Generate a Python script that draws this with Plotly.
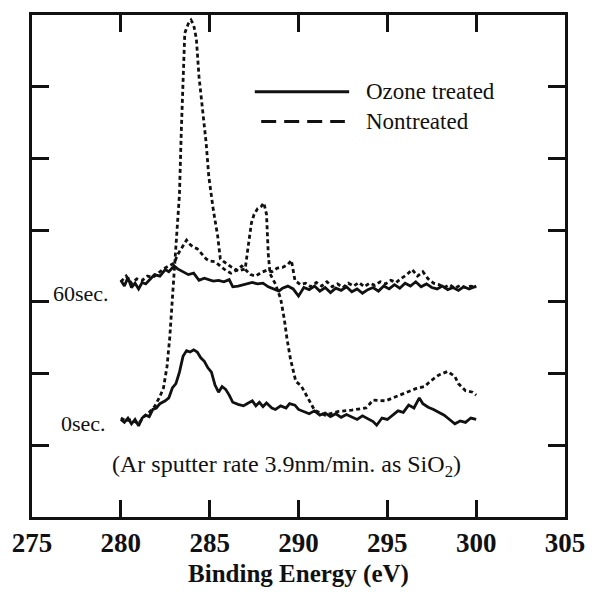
import plotly.graph_objects as go

# Binding energy axis (eV) and intensity (arb. units, offset per sputter time)
ozone_0s_x = [280.0, 280.2, 280.4, 280.6, 280.8, 281.0, 281.2, 281.4, 281.6, 281.8, 282.0, 282.2, 282.5, 282.7,
              282.9, 283.1, 283.3, 283.5, 283.7, 283.9, 284.1, 284.3, 284.5, 284.7, 284.9, 285.1, 285.3, 285.5,
              285.7, 285.9, 286.1, 286.3, 286.6, 286.9, 287.1, 287.4, 287.6, 287.8, 288.0, 288.2, 288.5, 288.7,
              289.0, 289.3, 289.5, 289.8, 290.0, 290.3, 290.6, 290.9, 291.2, 291.5, 291.8, 292.1, 292.4, 292.7,
              293.0, 293.3, 293.6, 293.9, 294.2, 294.4, 294.7, 295.0, 295.3, 295.6, 295.9, 296.2, 296.5, 296.8,
              297.0, 297.3, 297.6, 297.9, 298.2, 298.5, 298.8, 299.1, 299.4, 299.7, 300.0]
ozone_0s_y = [1.36, 1.32, 1.38, 1.30, 1.36, 1.27, 1.38, 1.42, 1.40, 1.50, 1.52, 1.58, 1.62, 1.66,
              1.80, 1.86, 2.02, 2.24, 2.32, 2.30, 2.33, 2.30, 2.22, 2.17, 2.08, 2.02, 1.84, 1.74,
              1.82, 1.78, 1.70, 1.60, 1.57, 1.55, 1.58, 1.62, 1.55, 1.60, 1.54, 1.59, 1.52, 1.50,
              1.55, 1.52, 1.58, 1.56, 1.50, 1.47, 1.44, 1.48, 1.42, 1.45, 1.40, 1.44, 1.39, 1.43,
              1.40, 1.36, 1.41, 1.37, 1.33, 1.28, 1.38, 1.36, 1.42, 1.48, 1.46, 1.56, 1.52, 1.66,
              1.58, 1.53, 1.50, 1.46, 1.42, 1.36, 1.30, 1.34, 1.32, 1.38, 1.36]

nontreated_0s_x = [280.0, 280.3, 280.6, 281.0, 281.3, 281.6, 281.9, 282.2, 282.4, 282.6, 282.75, 282.9,
                   283.0, 283.15, 283.3, 283.4, 283.5, 283.6, 283.8, 283.95, 284.1, 284.25, 284.4, 284.6,
                   284.8, 284.95, 285.2, 285.45, 285.6, 285.8, 286.0, 286.25, 286.6, 287.0, 287.15, 287.25,
                   287.35, 287.5, 287.7, 287.9, 288.05, 288.2, 288.25, 288.3, 288.4, 288.7, 289.0, 289.2,
                   289.35, 289.55, 289.85, 290.15, 290.55, 290.9, 291.5, 292.2, 293.0, 293.8, 294.2, 294.9,
                   295.5, 295.9, 296.6, 297.1, 297.4, 297.9, 298.4, 298.8, 299.0, 299.4, 299.8, 300.0]
nontreated_0s_y = [1.38, 1.34, 1.36, 1.30, 1.40, 1.46, 1.54, 1.68, 1.80, 2.10, 2.49, 3.04,
                   3.36, 3.90, 4.50, 5.36, 6.20, 6.75, 6.88, 6.93, 6.86, 6.67, 6.14, 5.70,
                   5.22, 4.75, 4.29, 3.92, 3.60, 3.56, 3.52, 3.48, 3.43, 3.46, 3.74, 3.92,
                   4.10, 4.22, 4.30, 4.33, 4.38, 4.22, 3.94, 3.66, 3.39, 3.25, 3.04, 2.76,
                   2.49, 2.20, 1.89, 1.83, 1.65, 1.49, 1.42, 1.47, 1.49, 1.52, 1.63, 1.62,
                   1.68, 1.72, 1.79, 1.82, 1.89, 1.98, 2.03, 1.96, 1.86, 1.76, 1.74, 1.70]

ozone_60s_x = [280.0, 280.2, 280.4, 280.6, 280.8, 281.0, 281.2, 281.4, 281.7, 281.9, 282.2, 282.5, 282.7,
               283.0, 283.2, 283.5, 283.8, 284.1, 284.4, 284.7, 284.9, 285.2, 285.5, 285.8, 286.1, 286.3,
               286.6, 286.9, 287.1, 287.4, 287.7, 288.0, 288.3, 288.6, 288.9, 289.1, 289.4, 289.7, 290.0,
               290.3, 290.6, 290.9, 291.2, 291.5, 291.8, 292.1, 292.4, 292.7, 293.0, 293.3, 293.6, 293.9,
               294.2, 294.5, 294.8, 295.1, 295.4, 295.7, 296.0, 296.3, 296.6, 296.9, 297.2, 297.5, 297.8,
               298.1, 298.4, 298.7, 299.0, 299.3, 299.6, 300.0]
ozone_60s_y = [3.30, 3.22, 3.34, 3.20, 3.26, 3.18, 3.27, 3.25, 3.33, 3.38, 3.36, 3.45, 3.42,
               3.50, 3.46, 3.42, 3.38, 3.40, 3.30, 3.33, 3.31, 3.29, 3.30, 3.28, 3.31, 3.21,
               3.22, 3.24, 3.25, 3.27, 3.25, 3.26, 3.21, 3.18, 3.15, 3.19, 3.22, 3.18, 3.08,
               3.20, 3.17, 3.22, 3.15, 3.20, 3.13, 3.19, 3.16, 3.21, 3.14, 3.18, 3.12, 3.17,
               3.20, 3.15, 3.22, 3.18, 3.24, 3.19, 3.26, 3.22, 3.28, 3.21, 3.25, 3.20, 3.18,
               3.22, 3.17, 3.20, 3.16, 3.21, 3.18, 3.22]

nontreated_60s_x = [280.0, 280.3, 280.6, 280.9, 281.2, 281.5, 281.8, 282.1, 282.4, 282.7, 283.0, 283.2,
                    283.5, 283.7, 283.9, 284.1, 284.3, 284.5, 284.8, 285.0, 285.3, 285.6, 285.9, 286.2,
                    286.5, 286.8, 287.0, 287.3, 287.6, 287.9, 288.2, 288.5, 288.8, 289.1, 289.4, 289.6,
                    289.8, 290.1, 290.4, 290.7, 291.0, 291.3, 291.6, 291.9, 292.2, 292.5, 292.8, 293.1,
                    293.4, 293.7, 294.0, 294.3, 294.6, 294.9, 295.2, 295.5, 295.8, 296.1, 296.4, 296.7,
                    297.0, 297.3, 297.6, 297.9, 298.2, 298.5, 298.8, 299.1, 299.4, 299.7, 300.0]
nontreated_60s_y = [3.28, 3.36, 3.26, 3.32, 3.30, 3.36, 3.34, 3.40, 3.46, 3.50, 3.54, 3.66,
                    3.78, 3.86, 3.80, 3.76, 3.74, 3.68, 3.60, 3.57, 3.56, 3.50, 3.44, 3.40,
                    3.44, 3.50, 3.45, 3.38, 3.36, 3.41, 3.44, 3.42, 3.47, 3.48, 3.52, 3.58,
                    3.30, 3.24, 3.26, 3.21, 3.27, 3.22, 3.28, 3.21, 3.25, 3.20, 3.26, 3.22,
                    3.27, 3.21, 3.26, 3.23, 3.28, 3.25, 3.30, 3.27, 3.33, 3.38, 3.45, 3.36,
                    3.42, 3.32, 3.26, 3.24, 3.20, 3.24, 3.19, 3.23, 3.20, 3.22, 3.20]

x_ticks = [275, 280, 285, 290, 295, 300, 305]
y_ticks = [1, 2, 3, 4, 5, 6]
series_names = ["Ozone treated", "Nontreated"]
time_labels = ["60sec.", "0sec."]
time_label_pos = [(279.45, 3.12), (279.25, 1.31)]
note_text = "(Ar sputter rate 3.9nm/min. as SiO<sub>2</sub>)"

SERIF = "Times New Roman, Liberation Serif, Tinos, DejaVu Serif"
INK = "#111111"
solid = dict(color=INK, width=2.8)
dotted = dict(color=INK, width=2.8, dash="4px,3px")

fig = go.Figure()
for xs, ys, style in [
    (ozone_60s_x, ozone_60s_y, solid),
    (nontreated_60s_x, nontreated_60s_y, dotted),
    (ozone_0s_x, ozone_0s_y, solid),
    (nontreated_0s_x, nontreated_0s_y, dotted),
]:
    fig.add_trace(go.Scatter(x=xs, y=ys, mode="lines", line=style, showlegend=False,
                             hoverinfo="skip"))

# Key: long line samples with the series names to their right
key_rows = [(0.847, dict(color=INK, width=3), 0.418, 0.595),
            (0.788, dict(color=INK, width=3, dash="15px,8px"), 0.430, 0.587)]
for (yk, ln, x0, x1), name in zip(key_rows, series_names):
    fig.add_shape(type="line", xref="paper", yref="paper", x0=x0, x1=x1, y0=yk, y1=yk, line=ln)
    fig.add_annotation(xref="paper", yref="paper", x=0.622, y=yk, text=name, showarrow=False,
                       xanchor="left", yanchor="middle", font=dict(family=SERIF, size=23, color=INK))

for label, (lx, ly) in zip(time_labels, time_label_pos):
    fig.add_annotation(x=lx, y=ly, text=label, showarrow=False, xanchor="right", yanchor="middle",
                       font=dict(family=SERIF, size=22, color=INK))

fig.add_annotation(x=289.3, y=0.71, text=note_text, showarrow=False, xanchor="center",
                   yanchor="middle", font=dict(family=SERIF, size=24, color=INK))

axis_common = dict(showgrid=False, zeroline=False, showline=True, linecolor=INK, linewidth=3,
                   ticks="inside", tickcolor=INK, tickwidth=3, ticklen=17, mirror="ticks")

fig.update_xaxes(range=[275, 305], tickvals=x_ticks,
                 ticktext=["<b>%d</b>" % v for v in x_ticks],
                 tickfont=dict(family=SERIF, size=27, color=INK),
                 title=dict(text="<b>Binding Energy (eV)</b>",
                            font=dict(family=SERIF, size=25, color=INK), standoff=8),
                 **axis_common)
fig.update_yaxes(range=[0, 7], tickvals=y_ticks, showticklabels=False, **axis_common)

fig.update_layout(width=597, height=596, margin=dict(l=27, r=24, t=15, b=77),
                  font=dict(family=SERIF),
                  paper_bgcolor="white", plot_bgcolor="white", showlegend=False)

fig.write_html("out.html")
